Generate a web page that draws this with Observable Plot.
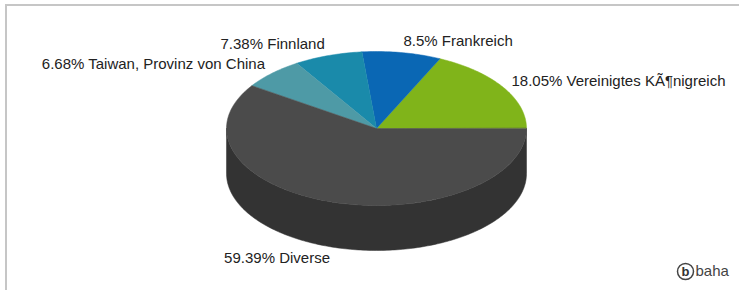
<!DOCTYPE html>
<html><head><meta charset="utf-8">
<script src="https://cdn.jsdelivr.net/npm/d3@7"></script>
<script src="https://cdn.jsdelivr.net/npm/@observablehq/plot@0.6"></script>
<style>body{margin:0;background:#fff}#chart svg{display:block}</style>
</head><body><div id="chart"></div>
<script>
// ---- data ----
const categories = ["Vereinigtes KÃ¶nigreich", "Frankreich", "Finnland", "Taiwan, Provinz von China", "Diverse"];
const shares = [18.05, 8.5, 7.38, 6.68, 59.39];
const labels = ["18.05%", "8.5%", "7.38%", "6.68%", "59.39%"];
const colors = ["#80b41a", "#0a67b4", "#1a8aaa", "#4e9aa6", "#4b4b4b"];
const sideColors = ["#5f8a10", "#074f8c", "#136a84", "#3a7680", "#333333"];

// ---- layout ----
const W = 739, H = 290;
const cx = 376, cy = 128, rx = 150, ry = 77, depth = 45;
const labRx = 160, labRy = 89;

const total = d3.sum(shares);
let acc = 0;
const slices = categories.map((c, i) => {
  const a0 = acc / total * 2 * Math.PI; acc += shares[i];
  const a1 = acc / total * 2 * Math.PI;
  return {c, i, a0, a1, color: colors[i], side: sideColors[i], label: labels[i] + " " + c};
});
const px = a => cx + rx * Math.cos(a);
const py = a => cy - ry * Math.sin(a);
const step = Math.PI / 180;

const topPts = [];
slices.forEach(s => {
  topPts.push({k: s.c, x: cx, y: cy, color: s.color});
  const n = Math.max(2, Math.ceil((s.a1 - s.a0) / step));
  for (let j = 0; j <= n; j++) {
    const a = s.a0 + (s.a1 - s.a0) * j / n;
    topPts.push({k: s.c, x: px(a), y: py(a), color: s.color});
  }
});

const sidePts = [];
slices.forEach(s => {
  const st = Math.max(s.a0, Math.PI), en = Math.min(s.a1, 2 * Math.PI);
  if (st >= en) return;
  const n = Math.max(2, Math.ceil((en - st) / step));
  for (let j = 0; j <= n; j++) { const a = st + (en - st) * j / n; sidePts.push({k: s.c, x: px(a), y: py(a), color: s.side}); }
  for (let j = n; j >= 0; j--) { const a = st + (en - st) * j / n; sidePts.push({k: s.c, x: px(a), y: py(a) + depth, color: s.side}); }
});

const labelPts = slices.map(s => {
  const m = (s.a0 + s.a1) / 2, c = Math.cos(m), sn = Math.sin(m);
  return {text: s.label, x: cx + c * labRx, y: cy - sn * labRy + (sn < 0 ? depth : 0), right: c >= 0};
});

const font = "'Liberation Sans', Arial, sans-serif";
const chart = Plot.plot({
  width: W, height: H, margin: 0,
  x: {domain: [0, W], range: [0, W], axis: null},
  y: {domain: [0, H], range: [0, H], axis: null},
  color: {type: "identity"},
  style: {fontFamily: font, background: "#fff"},
  marks: [
    Plot.ruleY([4.5], {x1: 5, x2: W, stroke: "#c6c6c6", strokeWidth: 2}),
    Plot.ruleX([5.5], {y1: 4, y2: H, stroke: "#c6c6c6", strokeWidth: 2}),
    Plot.line(sidePts, {x: "x", y: "y", z: "k", fill: "color", stroke: "color", strokeWidth: 0.5, curve: "linear-closed"}),
    Plot.line(topPts, {x: "x", y: "y", z: "k", fill: "color", stroke: "color", strokeWidth: 0.5, curve: "linear-closed"}),
    Plot.text(labelPts.filter(d => d.right), {x: "x", y: "y", text: "text", textAnchor: "start", lineAnchor: "middle", fontSize: 15, fill: "#222"}),
    Plot.text(labelPts.filter(d => !d.right), {x: "x", y: "y", text: "text", textAnchor: "end", lineAnchor: "middle", fontSize: 15, fill: "#222"}),
    Plot.dot([{x: W - 54, y: H - 19}], {x: "x", y: "y", r: 8, stroke: "#444", strokeWidth: 1.5, fill: "#fff"}),
    Plot.text([{x: W - 54, y: H - 19}], {x: "x", y: "y", text: () => "b", fontSize: 13, fontWeight: "bold", fill: "#333", lineAnchor: "middle"}),
    Plot.text([{x: W - 44, y: H - 19}], {x: "x", y: "y", text: () => "baha", fontSize: 15, fill: "#444", textAnchor: "start", lineAnchor: "middle"})
  ]
});
document.getElementById("chart").append(chart);
</script>
</body></html>
